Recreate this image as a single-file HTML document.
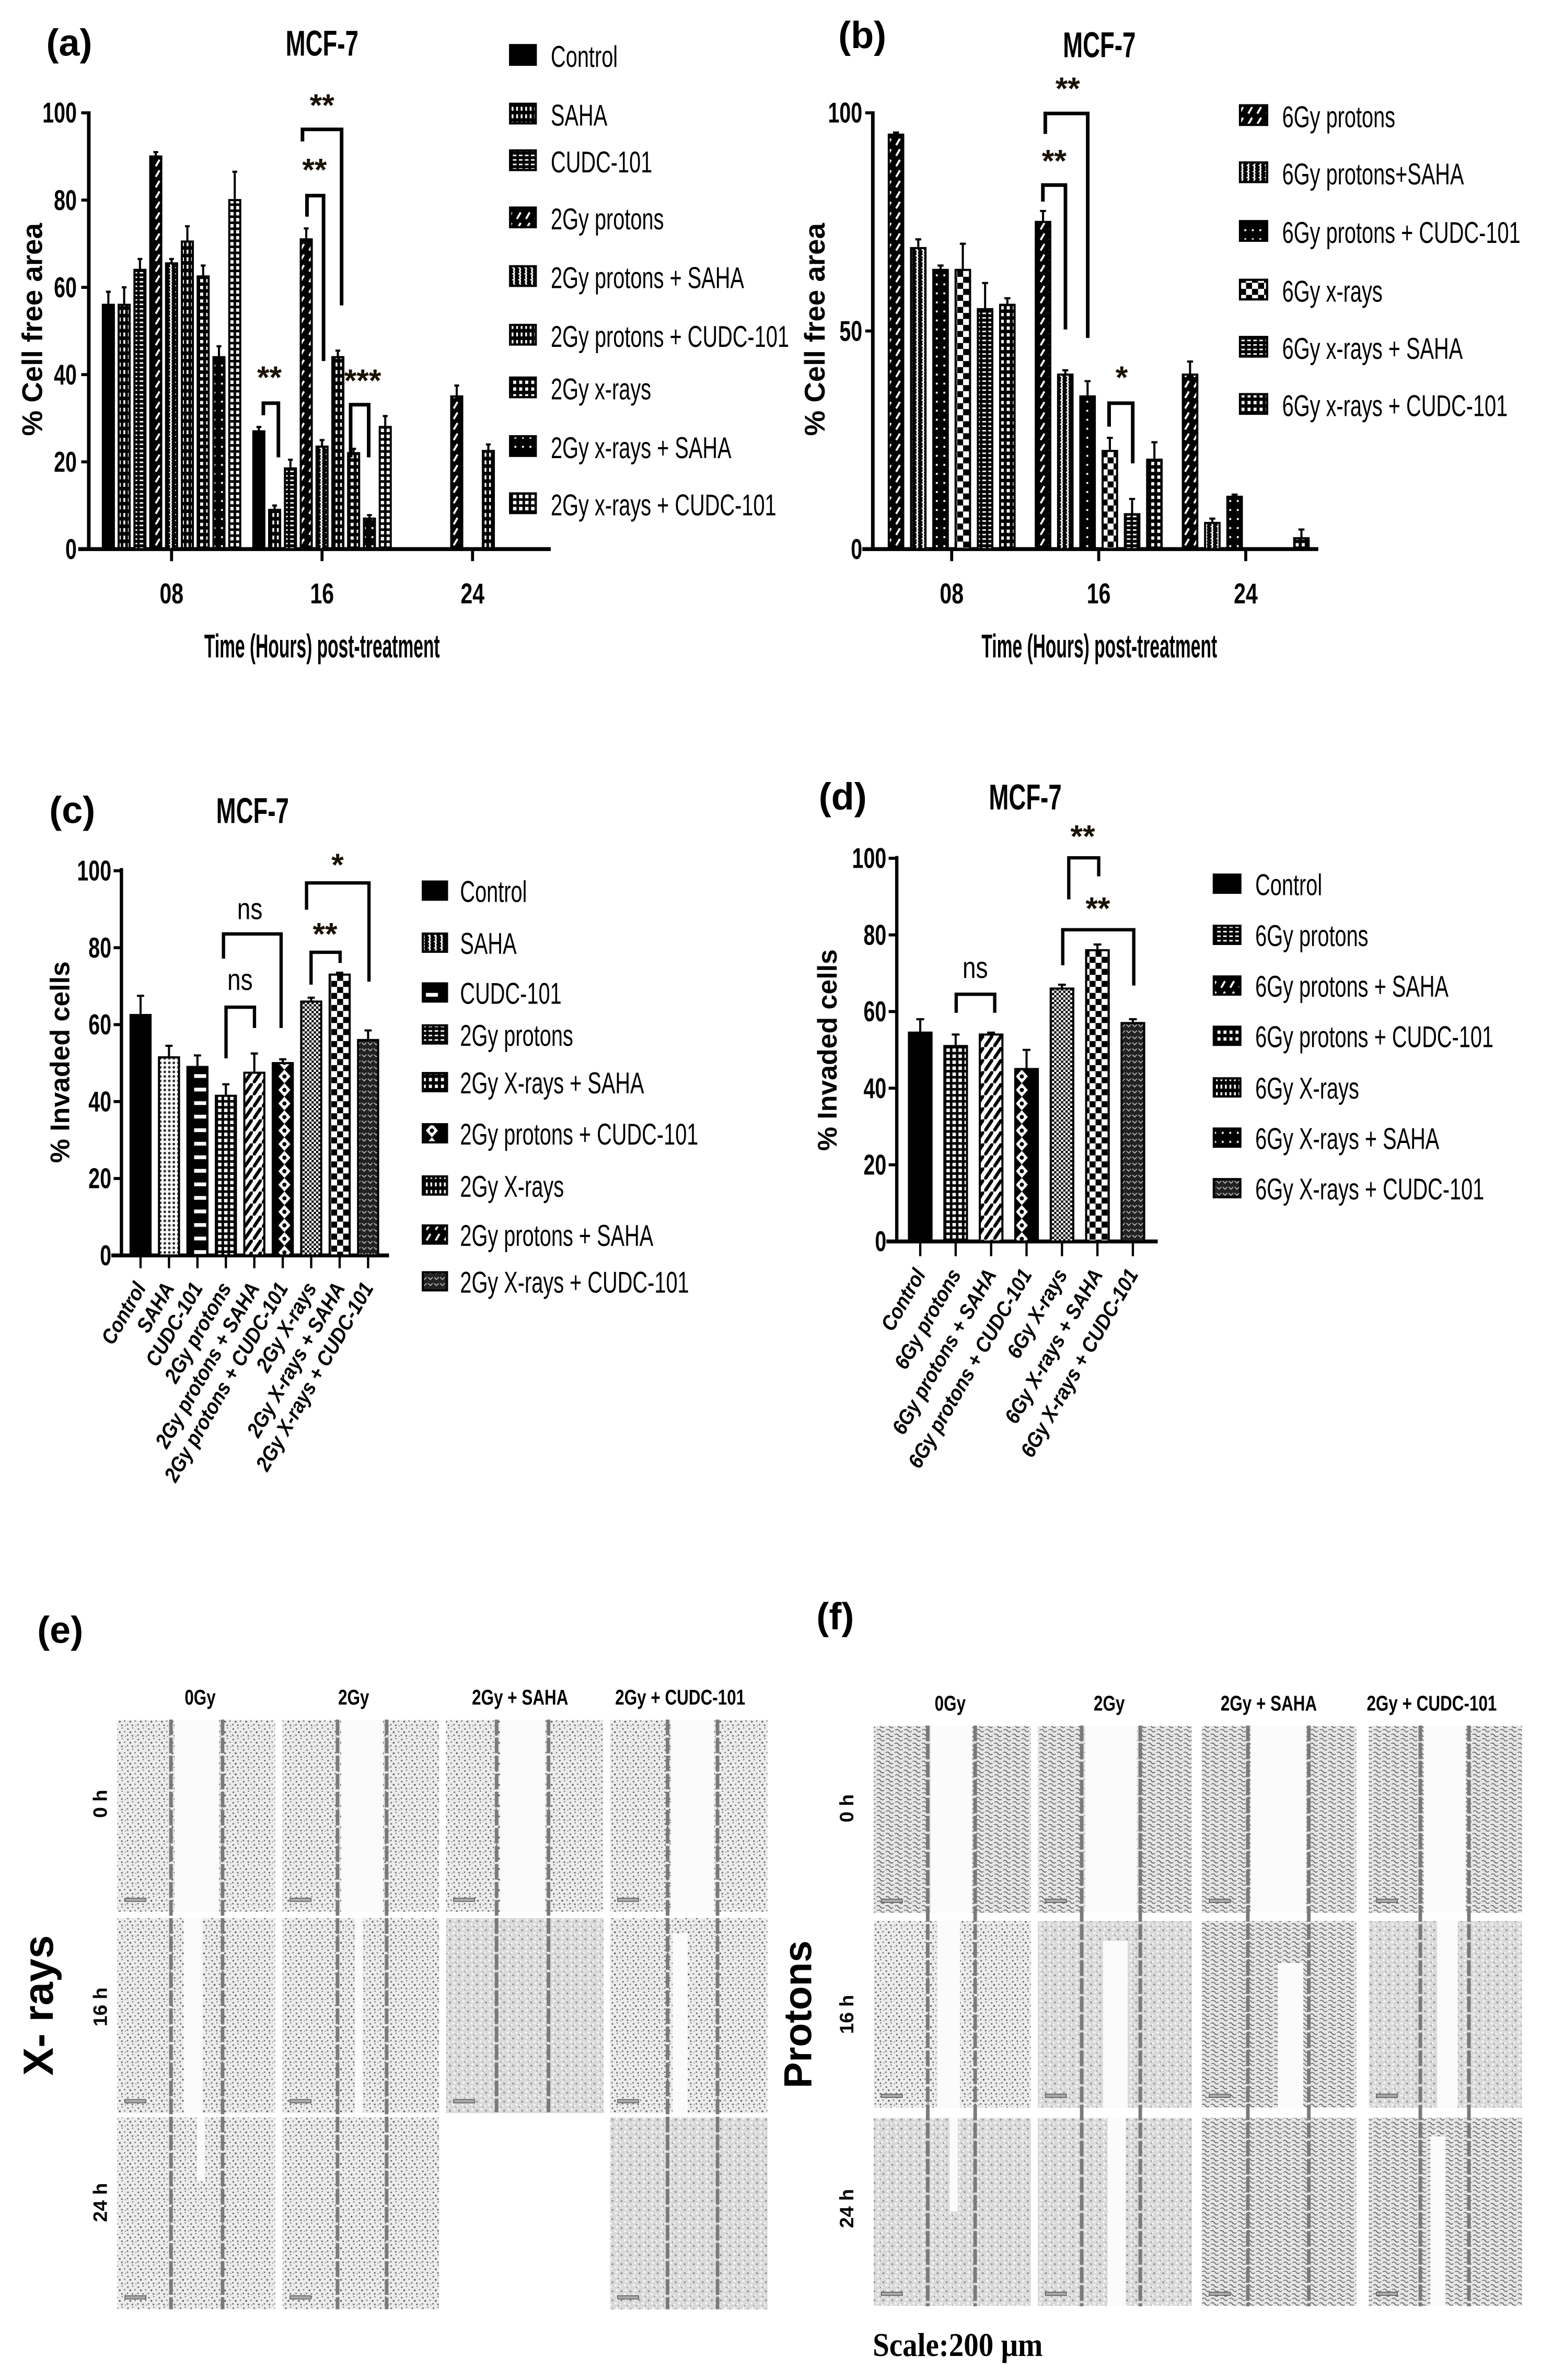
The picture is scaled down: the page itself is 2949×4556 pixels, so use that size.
<!DOCTYPE html>
<html><head><meta charset="utf-8"><title>MCF-7 figure</title>
<style>html,body{margin:0;padding:0;background:#fff}svg{display:block}</style></head>
<body>
<svg id="fig" xmlns="http://www.w3.org/2000/svg" width="2949" height="4556" viewBox="0 0 1024 1582">
<defs>
<pattern id="pSolid" patternUnits="userSpaceOnUse" width="4" height="4"><rect width="4" height="4" fill="#000"/></pattern>
<pattern id="pVdash" patternUnits="userSpaceOnUse" width="3" height="5"><rect width="3" height="5" fill="#000"/><rect x="1" y="1" width="1.2" height="2.6" fill="#fff"/></pattern>
<pattern id="pDiagB" patternUnits="userSpaceOnUse" width="6" height="7"><rect width="6" height="7" fill="#000"/><path d="M1.5 5.5 L4 1.2" stroke="#fff" stroke-width="1.3"/></pattern>
<pattern id="pLadder" patternUnits="userSpaceOnUse" width="4" height="3"><rect width="4" height="3" fill="#000"/><rect x="0.8" y="0.8" width="2.4" height="1" fill="#fff"/></pattern>
<pattern id="pBox" patternUnits="userSpaceOnUse" width="4" height="4.5"><rect width="4" height="4.5" fill="#000"/><rect x="1" y="1" width="2" height="2.2" fill="#fff"/></pattern>
<pattern id="pWave" patternUnits="userSpaceOnUse" width="4" height="4"><rect width="4" height="4" fill="#000"/><path d="M1 0 Q2.6 1 1 2 Q2.6 3 1 4" stroke="#fff" stroke-width="1" fill="none"/></pattern>
<pattern id="pDots" patternUnits="userSpaceOnUse" width="5" height="6"><rect width="5" height="6" fill="#000"/><circle cx="2.5" cy="3" r="0.7" fill="#fff"/></pattern>
<pattern id="pFine" patternUnits="userSpaceOnUse" width="3" height="3"><rect width="3" height="3" fill="#fff"/><rect width="1.5" height="1.5" fill="#000"/><rect x="1.5" y="1.5" width="1.5" height="1.5" fill="#000"/></pattern>
<pattern id="pBig" patternUnits="userSpaceOnUse" width="8" height="8"><rect width="8" height="8" fill="#fff"/><rect width="4" height="4" fill="#000"/><rect x="4" y="4" width="4" height="4" fill="#000"/></pattern>
<pattern id="pHdash" patternUnits="userSpaceOnUse" width="14" height="9"><rect width="14" height="9" fill="#000"/><rect x="3" y="3" width="8" height="2.5" fill="#fff"/></pattern>
<pattern id="pGrid" patternUnits="userSpaceOnUse" width="4" height="4"><rect width="4" height="4" fill="#000"/><rect x="0.9" y="0.9" width="2.3" height="2.3" fill="#fff"/></pattern>
<pattern id="pStripe" patternUnits="userSpaceOnUse" width="6" height="8"><rect width="6" height="8" fill="#fff"/><path d="M-1 10 L7 -2" stroke="#000" stroke-width="2.2"/></pattern>
<pattern id="pDiamond" patternUnits="userSpaceOnUse" width="14" height="9"><rect width="14" height="9" fill="#000"/><path d="M7 0 L11 4.5 L7 9 L3 4.5 Z" fill="#fff"/><circle cx="7" cy="4.5" r="1.4" fill="#000"/></pattern>
<pattern id="pSpeck" patternUnits="userSpaceOnUse" width="4" height="4"><rect width="4" height="4" fill="#222"/><path d="M0.5 1 L2 2.5 L3.5 1" stroke="#bbb" stroke-width="0.6" fill="none"/></pattern>
<pattern id="pDotsW" patternUnits="userSpaceOnUse" width="3" height="3"><rect width="3" height="3" fill="#fff"/><circle cx="1.5" cy="1.5" r="0.9" fill="#333"/></pattern>
<pattern id="cells" patternUnits="userSpaceOnUse" width="7" height="7"><rect width="7" height="7" fill="#ececec"/><circle cx="1" cy="1.3" r="0.55" fill="#666"/><circle cx="4.2" cy="0.6" r="0.45" fill="#777"/><circle cx="2.6" cy="3.4" r="0.6" fill="#555"/><circle cx="5.8" cy="3" r="0.5" fill="#777"/><circle cx="0.7" cy="5.4" r="0.5" fill="#666"/><circle cx="4" cy="5.8" r="0.55" fill="#666"/><circle cx="6.3" cy="6.2" r="0.4" fill="#888"/></pattern>
<pattern id="cellsD" patternUnits="userSpaceOnUse" width="6" height="6"><rect width="6" height="6" fill="#d9d9d9"/><circle cx="1.2" cy="1" r="0.7" fill="#fafafa"/><circle cx="4" cy="2" r="0.7" fill="#f2f2f2"/><circle cx="2" cy="4.3" r="0.8" fill="#f5f5f5"/><circle cx="5" cy="5" r="0.6" fill="#888"/><circle cx="3" cy="2.5" r="0.4" fill="#777"/></pattern>
<pattern id="cellsP" patternUnits="userSpaceOnUse" width="6" height="6"><rect width="6" height="6" fill="#e6e6e6"/><path d="M0.5 1 Q2 0 3 1.5 T5.5 2" stroke="#555" stroke-width="0.55" fill="none"/><path d="M0.8 4 Q2.5 3 3.5 4.5 T5.8 4.6" stroke="#666" stroke-width="0.55" fill="none"/></pattern>
</defs>
</svg>
<script>
// ---------- chart data ----------
const aCats = ['08', '16', '24'];
const aSeries = ['Control', 'SAHA', 'CUDC-101', '2Gy protons', '2Gy protons + SAHA', '2Gy protons + CUDC-101', '2Gy x-rays', '2Gy x-rays + SAHA', '2Gy x-rays + CUDC-101'];
const aVals08 = [56, 56, 64, 90, 65.5, 70.5, 62.5, 44, 80];
const aVals16 = [27, 9, 18.5, 71, 23.5, 44, 22, 7, 28];
const aVals24 = [null, null, null, 35, null, 22.5, null, null, null];
const aErr08 = [3, 4, 2.5, 1, 1, 3.5, 2.5, 2.5, 6.5];
const aErr16 = [1, 1, 2, 2.5, 1.5, 1.5, 1, 0.8, 2.5];
const aErr24 = [0, 0, 0, 2.5, 0, 1.5, 0, 0, 0];
const aTicks = [0, 20, 40, 60, 80, 100];

const bCats = ['08', '16', '24'];
const bSeries = ['6Gy protons', '6Gy protons+SAHA', '6Gy protons + CUDC-101', '6Gy x-rays', '6Gy x-rays + SAHA', '6Gy x-rays + CUDC-101'];
const bVals08 = [95, 69, 64, 64, 55, 56];
const bVals16 = [75, 40, 35, 22.5, 8, 20.5];
const bVals24 = [40, 6, 12, null, null, 2.5];
const bErr08 = [0.5, 2, 1, 6, 6, 1.5];
const bErr16 = [2.5, 1, 3.5, 3, 3.5, 4];
const bErr24 = [3, 1, 0.5, 0, 0, 2];
const bTicks = [0, 50, 100];

const cCats = ['Control', 'SAHA', 'CUDC-101', '2Gy protons', '2Gy protons + SAHA', '2Gy protons + CUDC-101', '2Gy X-rays', '2Gy X-rays + SAHA', '2Gy X-rays + CUDC-101'];
const cVals = [62.5, 51.5, 49, 41.5, 47.5, 50, 66, 73, 56];
const cErr = [5, 3, 3, 3, 5, 1, 1, 0.5, 2.5];
const cLegend = ['Control', 'SAHA', 'CUDC-101', '2Gy protons', '2Gy X-rays + SAHA', '2Gy protons + CUDC-101', '2Gy X-rays', '2Gy protons + SAHA', '2Gy X-rays + CUDC-101'];
const cTicks = [0, 20, 40, 60, 80, 100];

const dCats = ['Control', '6Gy protons', '6Gy protons + SAHA', '6Gy protons + CUDC-101', '6Gy X-rays', '6Gy X-rays + SAHA', '6Gy X-rays + CUDC-101'];
const dVals = [54.5, 51, 54, 45, 66, 76, 57];
const dErr = [3.5, 3, 0.5, 5, 1, 1.5, 1];
const dTicks = [0, 20, 40, 60, 80, 100];

// ---------- helpers ----------
const NS = 'http://www.w3.org/2000/svg';
const svg = document.getElementById('fig');
function mk(tag, attrs, name, parent) {
  const el = document.createElementNS(NS, tag);
  for (const k in attrs) el.setAttribute(k, attrs[k]);
  
  
  (parent || svg).appendChild(el);
  return el;
}
function T(x, y, s, o, name) {
  o = o || {};
  const tr = 'translate(' + x + ',' + y + ')' + (o.rot ? ' rotate(' + o.rot + ')' : '') + ' scale(' + (o.sx || 1) + ',1)';
  const el = mk('text', {
    transform: tr, 'font-size': o.size || 16, 'font-weight': o.weight || 'normal',
    'font-style': o.style || 'normal', 'text-anchor': o.anchor || 'start',
    'font-family': o.family || '"Liberation Sans", "DejaVu Sans", sans-serif',
    fill: o.fill || '#000'
  }, name);
  el.textContent = s;
  return el;
}
function bracket(lx, lb, top, rx, rb, w, name) {
  mk('path', { d: 'M' + lx + ' ' + lb + ' V' + top + ' H' + rx + ' V' + rb, fill: 'none', stroke: '#000', 'stroke-width': w }, name);
}
function star(x, y, s, size, name) {
  T(x, y, s, { size: size, weight: 'bold', anchor: 'middle', fill: '#1a1200' }, name);
}
function bar(x, w, y0, y1, pat, name) {
  mk('rect', { x: x - w / 2, y: y1, width: w, height: y0 - y1, fill: 'url(#' + pat + ')', stroke: '#000', 'stroke-width': 1.4 }, name);
}
function errbar(x, yTop, yErr, cap, name) {
  mk('path', { d: 'M' + x + ' ' + yTop + ' V' + yErr + ' M' + (x - cap) + ' ' + yErr + ' H' + (x + cap), stroke: '#000', 'stroke-width': 1.4, fill: 'none' }, name);
}
const TICK = { size: 19, weight: 'bold', anchor: 'end', sx: 0.72 };
const XT = { size: 22, weight: 'bold', anchor: 'middle', sx: 0.53 };
const TITLE = { size: 24, weight: 'bold', anchor: 'middle', sx: 0.66 };
const LEG = { size: 20, sx: 0.69 };

// ---------- panel (a) ----------
const aPat = ['pSolid', 'pVdash', 'pLadder', 'pDiagB', 'pWave', 'pVdash', 'pBox', 'pDots', 'pGrid'];
function aY(v) { return 365 - v * 2.9; }
function aX(ci, si) { return 114 + ci * 100 + (si - 4) * 10.5; }
(function () {
  T(46, 37, '(a)', { size: 25, weight: 'bold', anchor: 'middle' }, 'panel-a-label');
  T(214, 37, 'MCF-7', TITLE, 'panel-a-title');
  mk('line', { x1: 59, y1: 74, x2: 59, y2: 366, stroke: '#000', 'stroke-width': 2.4 }, 'a-y-axis');
  mk('line', { x1: 52, y1: 365, x2: 366, y2: 365, stroke: '#000', 'stroke-width': 2.6 }, 'a-x-axis');
  aTicks.forEach(function (t) {
    mk('line', { x1: 54, y1: aY(t), x2: 59, y2: aY(t), stroke: '#000', 'stroke-width': 2 }, 'a-y-tick');
    T(51, aY(t) + 6.5, String(t), TICK, 'a-y-tick-label');
  });
  aCats.forEach(function (c, i) {
    const x = 114 + i * 100;
    mk('line', { x1: x, y1: 365, x2: x, y2: 373, stroke: '#000', 'stroke-width': 2 }, 'a-x-tick');
    T(x, 401, c, { size: 19, weight: 'bold', anchor: 'middle', sx: 0.75 }, 'a-x-tick-label');
  });
  const vals = [aVals08, aVals16, aVals24], errs = [aErr08, aErr16, aErr24];
  vals.forEach(function (arr, ci) {
    arr.forEach(function (v, si) {
      if (v === null) return;
      const x = aX(ci, si);
      errbar(x, aY(v), aY(v + errs[ci][si]), 1.6, 'a-error-bar');
      bar(x, 7.3, 365, aY(v), aPat[si], 'a-bar-' + aCats[ci] + '-' + si);
    });
  });
  T(214, 437, 'Time (Hours) post-treatment', XT, 'a-x-axis-title');
  T(28, 219, '% Cell free area', { size: 19, weight: 'bold', anchor: 'middle', rot: -90 }, 'a-y-axis-title');
  const ly = [37, 76, 107, 145, 184, 223, 258, 297, 335];
  aSeries.forEach(function (s, i) {
    mk('rect', { x: 339, y: ly[i] - 7, width: 17, height: 13, fill: 'url(#' + aPat[i] + ')', stroke: '#000', 'stroke-width': 1.5 }, 'a-legend-swatch');
    T(366, ly[i] + 7.5, s, LEG, 'a-legend-entry');
  });
  bracket(175, 276, 268, 185, 304, 2.4, 'a-sig-bracket-1');
  star(179, 258, '**', 21, 'a-sig-label-1');
  bracket(204, 144, 130, 215, 240, 2.4, 'a-sig-bracket-2');
  star(209, 120, '**', 21, 'a-sig-label-2');
  bracket(201, 94, 86, 227, 203, 2.4, 'a-sig-bracket-3');
  star(214, 77, '**', 21, 'a-sig-label-3');
  bracket(233, 304, 269, 245, 304, 2.4, 'a-sig-bracket-4');
  star(241, 260, '***', 21, 'a-sig-label-4');
})();

// ---------- panel (b) ----------
const bPat = ['pDiagB', 'pWave', 'pDots', 'pBig', 'pLadder', 'pBox'];
function bY(v) { return 365 - v * 2.9; }
function bX(ci, si) { return 632.4 + ci * 97.7 + (si - 2.5) * 14.8; }
(function () {
  T(573, 32, '(b)', { size: 25, weight: 'bold', anchor: 'middle' }, 'panel-b-label');
  T(730.5, 38, 'MCF-7', TITLE, 'panel-b-title');
  mk('line', { x1: 580, y1: 74, x2: 580, y2: 366, stroke: '#000', 'stroke-width': 2.4 }, 'b-y-axis');
  mk('line', { x1: 573, y1: 365, x2: 876, y2: 365, stroke: '#000', 'stroke-width': 2.6 }, 'b-x-axis');
  bTicks.forEach(function (t) {
    mk('line', { x1: 575, y1: bY(t), x2: 580, y2: bY(t), stroke: '#000', 'stroke-width': 2 }, 'b-y-tick');
    T(573, bY(t) + 6.5, String(t), TICK, 'b-y-tick-label');
  });
  bCats.forEach(function (c, i) {
    const x = 632.4 + i * 97.7;
    mk('line', { x1: x, y1: 365, x2: x, y2: 373, stroke: '#000', 'stroke-width': 2 }, 'b-x-tick');
    T(x, 401, c, { size: 19, weight: 'bold', anchor: 'middle', sx: 0.75 }, 'b-x-tick-label');
  });
  const vals = [bVals08, bVals16, bVals24], errs = [bErr08, bErr16, bErr24];
  vals.forEach(function (arr, ci) {
    arr.forEach(function (v, si) {
      if (v === null) return;
      const x = bX(ci, si);
      errbar(x, bY(v), bY(v + errs[ci][si]), 2, 'b-error-bar');
      bar(x, 9.6, 365, bY(v), bPat[si], 'b-bar-' + bCats[ci] + '-' + si);
    });
  });
  T(730.5, 437, 'Time (Hours) post-treatment', XT, 'b-x-axis-title');
  T(548, 219, '% Cell free area', { size: 19, weight: 'bold', anchor: 'middle', rot: -90 }, 'b-y-axis-title');
  const ly = [77, 115, 154, 193, 231, 269];
  bSeries.forEach(function (s, i) {
    mk('rect', { x: 824, y: ly[i] - 7, width: 18, height: 13, fill: 'url(#' + bPat[i] + ')', stroke: '#000', 'stroke-width': 1.5 }, 'b-legend-swatch');
    T(852, ly[i] + 7.5, s, LEG, 'b-legend-entry');
  });
  bracket(694.6, 89, 75.4, 722.8, 224.6, 2.4, 'b-sig-bracket-1');
  star(709.5, 66, '**', 21, 'b-sig-label-1');
  bracket(693, 134, 123, 708, 219, 2.4, 'b-sig-bracket-2');
  star(700.5, 114, '**', 21, 'b-sig-label-2');
  bracket(737, 283.6, 268, 752.7, 308, 2.4, 'b-sig-bracket-3');
  star(745.4, 258, '*', 21, 'b-sig-label-3');
})();

// ---------- panel (c) ----------
const cPat = ['pSolid', 'pDotsW', 'pHdash', 'pGrid', 'pStripe', 'pDiamond', 'pFine', 'pBig', 'pSpeck'];
const cLegPat = ['pSolid', 'pWave', 'pHdash', 'pLadder', 'pBox', 'pDiamond', 'pVdash', 'pDiagB', 'pSpeck'];
function cY(v) { return 834.5 - v * 2.557; }
function cX(i) { return 93.4 + i * 18.9; }
(function () {
  T(48, 547, '(c)', { size: 25, weight: 'bold', anchor: 'middle' }, 'panel-c-label');
  T(167.8, 547, 'MCF-7', TITLE, 'panel-c-title');
  mk('line', { x1: 80.7, y1: 577, x2: 80.7, y2: 835, stroke: '#000', 'stroke-width': 2.2 }, 'c-y-axis');
  mk('line', { x1: 74, y1: 834.5, x2: 258.5, y2: 834.5, stroke: '#000', 'stroke-width': 2.6 }, 'c-x-axis');
  cTicks.forEach(function (t) {
    mk('line', { x1: 75.5, y1: cY(t), x2: 80.7, y2: cY(t), stroke: '#000', 'stroke-width': 2 }, 'c-y-tick');
    T(74, cY(t) + 6.5, String(t), TICK, 'c-y-tick-label');
  });
  cCats.forEach(function (c, i) {
    mk('line', { x1: cX(i), y1: 834.5, x2: cX(i), y2: 843, stroke: '#000', 'stroke-width': 1.5 }, 'c-x-tick');
    T(cX(i) + 4, 856, c, { size: 14, weight: 'bold', style: 'italic', anchor: 'end', rot: -60, sx: 0.9 }, 'c-x-tick-label');
  });
  cVals.forEach(function (v, i) {
    errbar(cX(i), cY(v), cY(v + cErr[i]), 2.4, 'c-error-bar');
    bar(cX(i), 13.3, 834.5, cY(v), cPat[i], 'c-bar-' + i);
  });
  T(46, 706, '% Invaded cells', { size: 18, weight: 'bold', anchor: 'middle', rot: -90 }, 'c-y-axis-title');
  const ly = [592, 626.6, 659.7, 687.6, 719.3, 753.3, 788, 820.6, 851.7];
  cLegend.forEach(function (s, i) {
    mk('rect', { x: 281, y: ly[i] - 6, width: 16, height: 12, fill: 'url(#' + cLegPat[i] + ')', stroke: '#000', 'stroke-width': 1.5 }, 'c-legend-swatch');
    T(305.7, ly[i] + 7.5, s, LEG, 'c-legend-entry');
  });
  bracket(148.5, 637.2, 620.8, 186.8, 683.3, 2.2, 'c-sig-bracket-1');
  T(166, 611, 'ns', { size: 20, anchor: 'middle', sx: 0.8 }, 'c-sig-label-1');
  bracket(150.2, 703.5, 669.5, 169.1, 683.3, 2.2, 'c-sig-bracket-2');
  T(159.5, 658, 'ns', { size: 20, anchor: 'middle', sx: 0.8 }, 'c-sig-label-2');
  bracket(203.7, 604.7, 586.9, 245.2, 652.5, 2.2, 'c-sig-bracket-3');
  star(224.3, 582, '*', 21, 'c-sig-label-3');
  bracket(206.7, 654.5, 633, 226, 640.1, 2.2, 'c-sig-bracket-4');
  star(216, 628, '**', 21, 'c-sig-label-4');
})();

// ---------- panel (d) ----------
const dPat = ['pSolid', 'pGrid', 'pStripe', 'pDiamond', 'pFine', 'pBig', 'pSpeck'];
const dLegPat = ['pSolid', 'pLadder', 'pDiagB', 'pBox', 'pVdash', 'pDots', 'pSpeck'];
function dY(v) { return 825.2 - v * 2.547; }
function dX(i) { return 611.5 + i * 23.55; }
(function () {
  T(560, 538, '(d)', { size: 25, weight: 'bold', anchor: 'middle' }, 'panel-d-label');
  T(681.3, 538, 'MCF-7', TITLE, 'panel-d-title');
  mk('line', { x1: 595.9, y1: 569, x2: 595.9, y2: 826, stroke: '#000', 'stroke-width': 2.2 }, 'd-y-axis');
  mk('line', { x1: 589, y1: 825.2, x2: 769.3, y2: 825.2, stroke: '#000', 'stroke-width': 2.6 }, 'd-x-axis');
  dTicks.forEach(function (t) {
    mk('line', { x1: 590.5, y1: dY(t), x2: 595.9, y2: dY(t), stroke: '#000', 'stroke-width': 2 }, 'd-y-tick');
    T(589, dY(t) + 6.5, String(t), TICK, 'd-y-tick-label');
  });
  dCats.forEach(function (c, i) {
    mk('line', { x1: dX(i), y1: 825.2, x2: dX(i), y2: 835, stroke: '#000', 'stroke-width': 1.5 }, 'd-x-tick');
    T(dX(i) + 4, 847, c, { size: 14, weight: 'bold', style: 'italic', anchor: 'end', rot: -60, sx: 0.9 }, 'd-x-tick-label');
  });
  dVals.forEach(function (v, i) {
    errbar(dX(i), dY(v), dY(v + dErr[i]), 2.6, 'd-error-bar');
    bar(dX(i), 15, 825.2, dY(v), dPat[i], 'd-bar-' + i);
  });
  T(556, 698, '% Invaded cells', { size: 18, weight: 'bold', anchor: 'middle', rot: -90 }, 'd-y-axis-title');
  const ly = [587.4, 621.4, 655.1, 688.5, 722.8, 756.2, 789.8];
  dCats.forEach(function (s, i) {
    mk('rect', { x: 806.6, y: ly[i] - 6, width: 17.6, height: 12, fill: 'url(#' + dLegPat[i] + ')', stroke: '#000', 'stroke-width': 1.5 }, 'd-legend-swatch');
    T(834.1, ly[i] + 7.5, s, LEG, 'd-legend-entry');
  });
  bracket(635.4, 673.2, 660.9, 661, 673.2, 2.2, 'd-sig-bracket-1');
  T(648, 650, 'ns', { size: 20, anchor: 'middle', sx: 0.8 }, 'd-sig-label-1');
  bracket(710.2, 597.8, 570.2, 730.1, 582.5, 2.2, 'd-sig-bracket-2');
  star(719.5, 563, '**', 21, 'd-sig-label-2');
  bracket(706.2, 641.6, 618, 753.4, 655.1, 2.2, 'd-sig-bracket-3');
  star(729.5, 611, '**', 21, 'd-sig-label-3');
})();

// ---------- micrograph panels (e) & (f) ----------
function micro(prefix, cols, rows, dashes, gaps, heads, headY, present, fills) {
  heads.forEach(function (h) { T(h[0], headY, h[1], { size: 14, weight: 'bold', anchor: 'middle', sx: 0.78 }, prefix + '-column-header'); });
  rows.forEach(function (r, ri) {
    cols.forEach(function (c, ci) {
      if (!present[ri][ci]) return;
      mk('rect', { x: c[0], y: r[0], width: c[1] - c[0], height: r[1] - r[0], fill: 'url(#' + fills[ri][ci] + ')' }, prefix + '-micrograph');
      mk('rect', { x: c[0] + 5, y: r[1] - 9, width: 14, height: 2.2, fill: '#aaa', stroke: '#555', 'stroke-width': 0.5 }, prefix + '-scale-bar');
    });
  });
  gaps.forEach(function (g) {
    mk('rect', { x: g[0], y: g[1], width: g[2] - g[0], height: g[3] - g[1], fill: '#fbfbfb' }, prefix + '-wound-gap');
  });
  dashes.forEach(function (d) {
    mk('line', { x1: d[0], y1: d[1], x2: d[0], y2: d[2], stroke: '#7a7a7a', 'stroke-width': 2.4, 'stroke-dasharray': '10.4 1.6' }, prefix + '-wound-edge-line');
  });
}
(function () {
  T(40, 1092, '(e)', { size: 25, weight: 'bold', anchor: 'middle' }, 'panel-e-label');
  const cols = [[78, 182.8], [187.7, 291.8], [296.4, 401], [405.4, 510]];
  const rows = [[1143.2, 1270.7], [1275, 1404.6], [1407.5, 1535]];
  const fills = [['cells', 'cells', 'cells', 'cells'], ['cells', 'cells', 'cellsD', 'cells'], ['cells', 'cells', 'cells', 'cellsD']];
  const present = [[1, 1, 1, 1], [1, 1, 1, 1], [1, 1, 0, 1]];
  const gaps = [[116, 1143.2, 145.5, 1270.7], [226.6, 1143.2, 254.6, 1270.7], [332.3, 1143.2, 362.2, 1270.7], [445.9, 1143.2, 474.5, 1270.7],
    [122, 1275, 134.5, 1404.6], [236, 1275, 241, 1404.6], [447, 1285, 457, 1404.6], [131, 1407.5, 136, 1450]];
  const dashes = [[113.6, 1143, 1535], [147.9, 1143, 1535], [224.3, 1143, 1535], [256.9, 1143, 1535], [330, 1143, 1404], [364.5, 1143, 1404], [443.6, 1143, 1535], [476.8, 1143, 1535]];
  micro('e', cols, rows, dashes, gaps, [[133, '0Gy'], [235, '2Gy'], [345.6, '2Gy + SAHA'], [452, '2Gy + CUDC-101']], 1133, present, fills);
  T(71, 1199, '0 h', { size: 13, weight: 'bold', anchor: 'middle', rot: -90 }, 'e-row-label');
  T(71, 1334, '16 h', { size: 13, weight: 'bold', anchor: 'middle', rot: -90 }, 'e-row-label');
  T(71, 1464, '24 h', { size: 13, weight: 'bold', anchor: 'middle', rot: -90 }, 'e-row-label');
  T(35, 1333, 'X- rays', { size: 28, weight: 'bold', anchor: 'middle', rot: -90 }, 'e-modality-label');
})();
(function () {
  T(555, 1083, '(f)', { size: 25, weight: 'bold', anchor: 'middle' }, 'panel-f-label');
  const cols = [[580.6, 685], [689.6, 792], [798.6, 901.3], [909.6, 1011.3]];
  const rows = [[1147.3, 1271.4], [1277, 1401], [1407.8, 1532.6]];
  const fills = [['cellsP', 'cellsP', 'cellsP', 'cellsP'], ['cells', 'cellsD', 'cellsP', 'cellsD'], ['cellsD', 'cellsD', 'cellsP', 'cellsP']];
  const present = [[1, 1, 1, 1], [1, 1, 1, 1], [1, 1, 1, 1]];
  const gaps = [[618.5, 1147.3, 646, 1271.4], [721, 1147.3, 755.5, 1271.4], [831, 1147.3, 868, 1271.4], [946, 1147.3, 974, 1271.4],
    [623, 1277, 638, 1401], [733, 1290, 749.4, 1401], [849, 1305, 866, 1401], [955, 1277, 968.7, 1401],
    [631, 1407.8, 636.4, 1470], [736, 1407.8, 748, 1532.6], [950.5, 1420, 960.4, 1532.6]];
  const dashes = [[616.5, 1147, 1533], [648, 1147, 1533], [718.8, 1147, 1533], [757.7, 1147, 1533], [829.2, 1147, 1533], [869.7, 1147, 1533], [943.8, 1147, 1533], [976.1, 1147, 1533]];
  micro('f', cols, rows, dashes, gaps, [[631.4, '0Gy'], [737.1, '2Gy'], [843.1, '2Gy + SAHA'], [951.4, '2Gy + CUDC-101']], 1137, present, fills);
  T(567, 1202, '0 h', { size: 13, weight: 'bold', anchor: 'middle', rot: -90 }, 'f-row-label');
  T(567, 1339, '16 h', { size: 13, weight: 'bold', anchor: 'middle', rot: -90 }, 'f-row-label');
  T(567, 1468, '24 h', { size: 13, weight: 'bold', anchor: 'middle', rot: -90 }, 'f-row-label');
  T(539, 1339, 'Protons', { size: 26, weight: 'bold', anchor: 'middle', rot: -90 }, 'f-modality-label');
  T(636.4, 1566, 'Scale:200 μm', { size: 22, weight: 'bold', anchor: 'middle', family: '"Liberation Serif", "DejaVu Serif", serif', sx: 0.9 }, 'scale-label');
})();
</script>
</body></html>
